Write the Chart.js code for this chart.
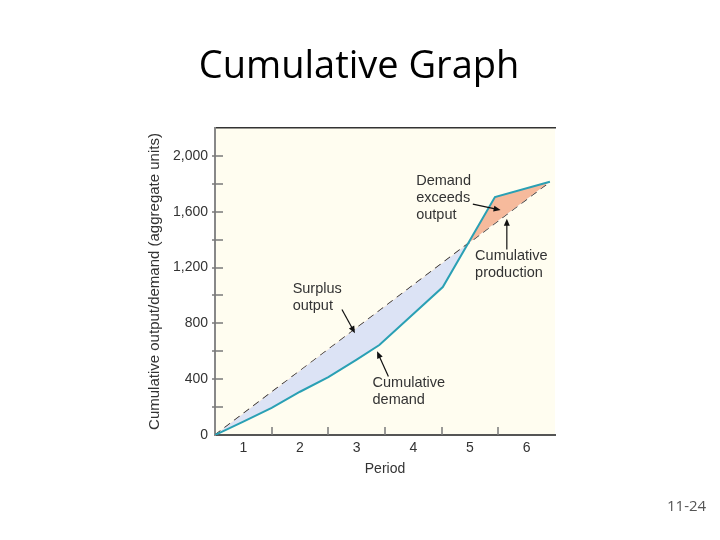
<!DOCTYPE html>
<html>
<head>
<meta charset="utf-8">
<script src="https://cdn.jsdelivr.net/npm/chart.js@4.4.1/dist/chart.umd.min.js"></script>
<style>
  html, body { margin: 0; padding: 0; background: #fff; }
  #wrap { position: relative; width: 720px; height: 540px; }
  #page { position: absolute; left: 667px; top: 495px; font: 15px 'Open Sans', sans-serif; color: #555; }
</style>
</head>
<body>
<div id="wrap">
  <canvas id="cum-chart" width="720" height="540"></canvas>
  <div id="page">11-24</div>
</div>
<script>
(function () {
  'use strict';

  // Periods on the x axis (labels sit in the middle of each period)
  var periodLabels  = ['1', '2', '3', '4', '5', '6'];
  var periodCenters = [0.5, 1.5, 2.5, 3.5, 4.5, 5.5];
  var periodBounds  = [1, 2, 3, 4, 5];

  // Cumulative demand (solid teal line)
  var demandX = [0, 0.5, 1, 1.5, 2, 2.5, 2.9, 4.02, 4.94, 5.91];
  var demandY = [0, 96, 195, 310, 415, 540, 645, 1060, 1705, 1815];

  // Cumulative production (dashed straight line)
  var productionX = [0, 5.91];
  var productionY = [0, 1815];

  var Y_MAX = 2200, Y_STEP = 200, Y_LABEL_STEP = 400;

  // Callouts: text lines + arrow (data coords)
  var notes = [
    { lines: ['Demand', 'exceeds', 'output'], x: 3.55, y: 1818, arrow: [4.55, 1655, 5.04, 1612] },
    { lines: ['Cumulative', 'production'],    x: 4.59, y: 1283, arrow: [5.15, 1330, 5.15, 1550] },
    { lines: ['Surplus', 'output'],           x: 1.37, y: 1048, arrow: [2.24, 899, 2.47, 730] },
    { lines: ['Cumulative', 'demand'],        x: 2.78, y: 372,  arrow: [3.06, 419, 2.86, 600] }
  ];

  var FONT = "'Liberation Sans', Arial, sans-serif";
  var TEXT = '#333333';

  function pts(xs, ys) {
    return xs.map(function (x, i) { return { x: x, y: ys[i] }; });
  }

  function arrow(ctx, x1, y1, x2, y2) {
    var ang = Math.atan2(y2 - y1, x2 - x1);
    var hl = 7, hw = 3;
    ctx.beginPath();
    ctx.moveTo(x1, y1);
    ctx.lineTo(x2 - Math.cos(ang) * hl * 0.8, y2 - Math.sin(ang) * hl * 0.8);
    ctx.stroke();
    ctx.beginPath();
    ctx.moveTo(x2, y2);
    ctx.lineTo(x2 - Math.cos(ang) * hl - Math.sin(ang) * hw, y2 - Math.sin(ang) * hl + Math.cos(ang) * hw);
    ctx.lineTo(x2 - Math.cos(ang) * hl + Math.sin(ang) * hw, y2 - Math.sin(ang) * hl - Math.cos(ang) * hw);
    ctx.closePath();
    ctx.fill();
  }

  var plotDecor = {
    id: 'plotDecor',
    beforeDraw: function (chart) {
      var a = chart.chartArea, ctx = chart.ctx;
      ctx.save();
      ctx.fillStyle = '#fffdf0';
      ctx.fillRect(a.left, a.top, a.right - a.left, a.bottom - a.top);
      ctx.restore();
    },
    afterDatasetsDraw: function (chart) {
      var ctx = chart.ctx, xs = chart.scales.x, ys = chart.scales.y;
      ctx.save();
      // inward tick marks
      ctx.strokeStyle = '#7a7a7a';
      ctx.lineWidth = 1.5;
      ctx.beginPath();
      ys.ticks.forEach(function (t) {
        if (t.value <= 0 || t.value >= Y_MAX) return;
        var py = Math.round(ys.getPixelForValue(t.value));
        ctx.moveTo(xs.left - 3, py);
        ctx.lineTo(xs.left + 8, py);
      });
      periodBounds.forEach(function (b) {
        var px = Math.round(xs.getPixelForValue(b));
        ctx.moveTo(px, ys.bottom);
        ctx.lineTo(px, ys.bottom - 8);
      });
      ctx.stroke();

      // callouts
      ctx.font = '14.5px ' + FONT;
      ctx.fillStyle = TEXT;
      ctx.textAlign = 'left';
      ctx.textBaseline = 'middle';
      notes.forEach(function (n) {
        var px = xs.getPixelForValue(n.x), py = ys.getPixelForValue(n.y);
        n.lines.forEach(function (line, i) { ctx.fillText(line, px, py + i * 17); });
      });
      ctx.strokeStyle = '#111';
      ctx.fillStyle = '#111';
      ctx.lineWidth = 1.2;
      notes.forEach(function (n) {
        var a = n.arrow;
        arrow(ctx, xs.getPixelForValue(a[0]), ys.getPixelForValue(a[1]),
                   xs.getPixelForValue(a[2]), ys.getPixelForValue(a[3]));
      });
      ctx.restore();
    }
  };

  new Chart(document.getElementById('cum-chart'), {
    type: 'line',
    data: {
      datasets: [
        {
          label: 'Cumulative demand',
          data: pts(demandX, demandY),
          borderColor: '#2aa0b4',
          borderWidth: 2,
          pointRadius: 0,
          tension: 0,
          fill: { target: 1, above: '#f6ba9c', below: '#dce3f5' }
        },
        {
          label: 'Cumulative production',
          data: pts(productionX, productionY),
          borderColor: '#1a1a1a',
          borderWidth: 1.2,
          borderDash: [7, 5],
          pointRadius: 0,
          fill: false
        }
      ]
    },
    options: {
      responsive: false,
      animation: false,
      devicePixelRatio: 1,
      layout: { padding: { left: 140, right: 142, top: 0, bottom: 60 } },
      plugins: {
        legend: { display: false },
        tooltip: { enabled: false },
        title: {
          display: true,
          text: 'Cumulative Graph',
          color: '#000',
          font: { family: "'Open Sans', sans-serif", size: 38, weight: 'normal' },
          padding: { top: 44, bottom: 38.4 }
        }
      },
      scales: {
        x: {
          type: 'linear',
          min: 0,
          max: 6,
          afterBuildTicks: function (scale) {
            scale.ticks = periodCenters.map(function (v) { return { value: v }; });
          },
          afterFit: function (scale) { scale.height = 45; },
          grid: { display: false, drawTicks: false, tickLength: 0 },
          border: { color: '#555', width: 2 },
          ticks: {
            padding: 5,
            color: TEXT,
            font: { family: FONT, size: 14 },
            callback: function (v, i) { return periodLabels[i]; }
          },
          title: {
            display: true,
            text: 'Period',
            color: TEXT,
            font: { family: FONT, size: 14 },
            padding: { top: 0, bottom: 2 }
          }
        },
        xTop: {
          type: 'linear',
          position: 'top',
          min: 0,
          max: 6,
          afterFit: function (scale) { scale.height = 0; },
          grid: { display: false, drawTicks: false, tickLength: 0 },
          ticks: { display: false },
          border: { color: '#333', width: 1.5 }
        },
        yRight: {
          type: 'linear',
          position: 'right',
          min: 0,
          max: Y_MAX,
          afterFit: function (scale) { scale.width = 23; },
          grid: { display: false, drawTicks: false, tickLength: 0 },
          ticks: { display: false },
          border: { display: false }
        },
        y: {
          min: 0,
          max: Y_MAX,
          afterFit: function (scale) { scale.width = 75; },
          grid: { display: false, drawTicks: false, tickLength: 0 },
          border: { color: '#888', width: 2 },
          ticks: {
            stepSize: Y_STEP,
            autoSkip: false,
            padding: 7,
            color: TEXT,
            font: { family: FONT, size: 14 },
            callback: function (v) { return v % Y_LABEL_STEP === 0 ? v.toLocaleString('en-US') : ''; }
          },
          title: {
            display: true,
            text: 'Cumulative output/demand (aggregate units)',
            color: TEXT,
            font: { family: FONT, size: 15 },
            padding: { top: 6, bottom: 0 }
          }
        }
      }
    },
    plugins: [plotDecor]
  });
})();
</script>
</body>
</html>
